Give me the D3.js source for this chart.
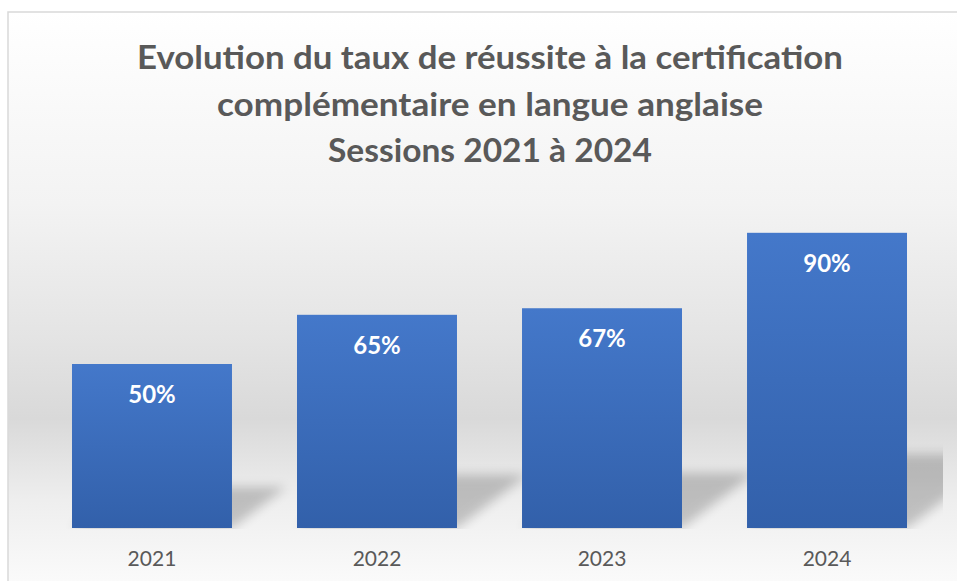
<!DOCTYPE html>
<html>
<head>
<meta charset="utf-8">
<script src="https://cdn.jsdelivr.net/npm/d3@7"></script>
<style>
  html, body { margin: 0; padding: 0; background: #fff; }
  svg { display: block; }
</style>
</head>
<body>
<div id="chart"></div>
<script>
// données du graphique
const sessions = ["2021", "2022", "2023", "2024"];
const tauxReussite = [50, 65, 67, 90];
const titleLines = [
  "Evolution du taux de réussite à la certification",
  "complémentaire en langue anglaise",
  "Sessions 2021 à 2024"
];
const titleWidths = [706, 546, 324]; // largeur des lignes du titre (px)

const width = 957, height = 581;
const font = "Lato, 'Open Sans', sans-serif";

const svg = d3.select("#chart")
  .append("svg")
  .attr("width", width)
  .attr("height", height);

const defs = svg.append("defs");

// fond dégradé (style Office)
const bg = defs.append("linearGradient")
  .attr("id", "bg").attr("x1", 0).attr("y1", 0).attr("x2", 0).attr("y2", 1);
[[0, "#ffffff"], [0.33, "#f3f3f3"], [0.56, "#e4e4e4"], [0.7, "#d9d9d9"],
 [0.84, "#eeeeee"], [1, "#fcfcfc"]]
  .forEach(([o, c]) => bg.append("stop").attr("offset", o).attr("stop-color", c));

const barGrad = defs.append("linearGradient")
  .attr("id", "barGrad").attr("x1", 0).attr("y1", 0).attr("x2", 0).attr("y2", 1);
barGrad.append("stop").attr("offset", 0).attr("stop-color", "#4478ca");
barGrad.append("stop").attr("offset", 1).attr("stop-color", "#3260aa");

defs.append("filter").attr("id", "blur")
  .attr("x", "-50%").attr("y", "-50%").attr("width", "200%").attr("height", "200%")
  .append("feGaussianBlur").attr("stdDeviation", 5.5);

defs.append("clipPath").attr("id", "plotClip")
  .append("rect").attr("x", 9).attr("y", 13).attr("width", 934).attr("height", 516);

// zone du graphique
svg.append("rect")
  .attr("x", 8).attr("y", 12)
  .attr("width", width).attr("height", height)
  .attr("fill", "url(#bg)")
  .attr("stroke", "#d9d9d9")
  .attr("stroke-width", 1.5);

// échelles
const x = d3.scaleBand()
  .domain(sessions)
  .range([39.5, 939.5])
  .paddingInner(0.289)
  .paddingOuter(0.1444);

const y = d3.scaleLinear()
  .domain([0, 100])
  .range([528, 200]);

const data = sessions.map((s, i) => ({ session: s, value: tauxReussite[i] }));

// ombres en perspective
svg.append("g")
  .attr("clip-path", "url(#plotClip)")
  .selectAll("polygon")
  .data(data)
  .join("polygon")
  .attr("points", (d) => {
    const x0 = x(d.session), x1 = x0 + x.bandwidth();
    const b = y(0), h = y(0) - y(d.value);
    const dx = 0.33 * h, dy = 0.25 * h;
    return [[x0, b], [x1, b], [x1 + dx, b - dy], [x0 + dx, b - dy]].join(" ");
  })
  .attr("fill", "#000")
  .attr("opacity", 0.2)
  .attr("filter", "url(#blur)");

// barres
svg.append("g")
  .selectAll("rect")
  .data(data)
  .join("rect")
  .attr("x", (d) => x(d.session))
  .attr("y", (d) => y(d.value))
  .attr("width", x.bandwidth())
  .attr("height", (d) => y(0) - y(d.value))
  .attr("fill", "url(#barGrad)");

// étiquettes de valeurs
svg.append("g")
  .selectAll("text")
  .data(data)
  .join("text")
  .attr("x", (d) => x(d.session) + x.bandwidth() / 2)
  .attr("y", (d) => y(d.value) + 39)
  .attr("text-anchor", "middle")
  .attr("fill", "#fff")
  .style("font-family", font)
  .style("font-weight", "bold")
  .style("font-size", "24px")
  .text((d) => d.value + "%");

// axe des catégories
const xAxis = svg.append("g")
  .attr("transform", `translate(0,${y(0)})`)
  .call(d3.axisBottom(x).tickSize(0).tickPadding(23));
xAxis.select(".domain").remove();
xAxis.selectAll("text")
  .attr("fill", "#595959")
  .style("font-family", font)
  .style("font-size", "21px");

// titre
svg.append("g")
  .selectAll("text")
  .data(titleLines)
  .join("text")
  .attr("x", 490)
  .attr("y", (d, i) => 69 + i * 46.5)
  .attr("text-anchor", "middle")
  .attr("fill", "#595959")
  .attr("textLength", (d, i) => titleWidths[i])
  .attr("lengthAdjust", "spacingAndGlyphs")
  .style("font-family", font)
  .style("font-weight", "bold")
  .style("font-size", "32px")
  .text((d) => d);
</script>
</body>
</html>
